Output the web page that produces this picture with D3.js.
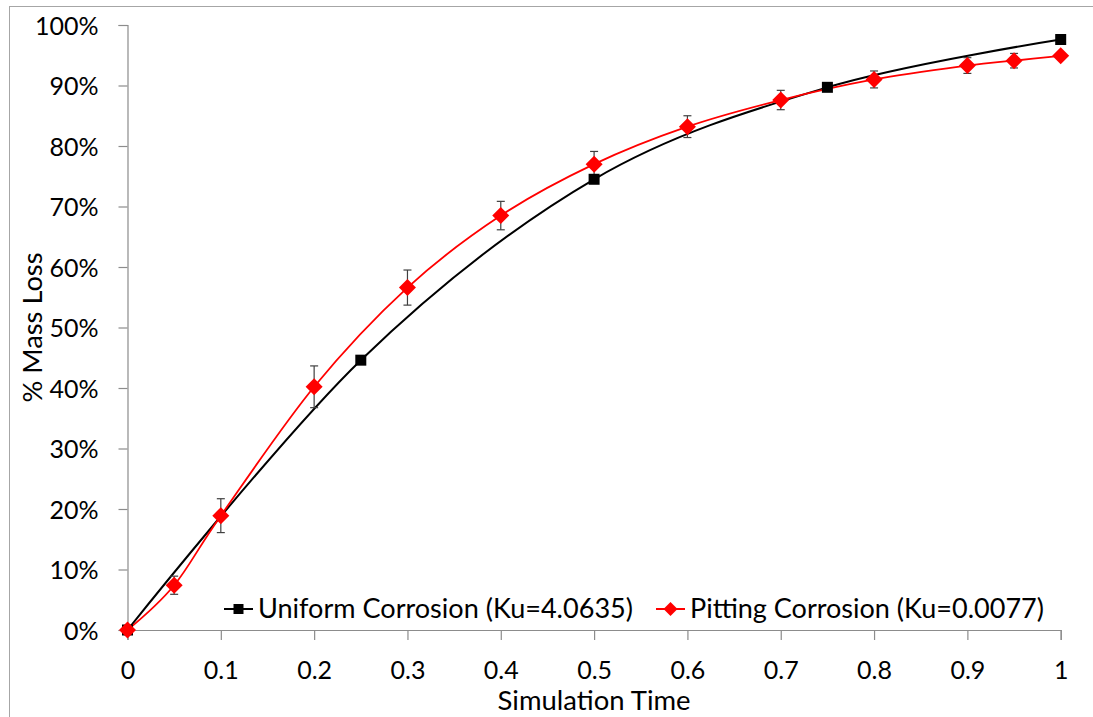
<!DOCTYPE html>
<html>
<head>
<meta charset="utf-8">
<script src="https://cdn.jsdelivr.net/npm/d3@7"></script>
<style>
  html, body { margin: 0; padding: 0; background: #fff; }
  svg { display: block; }
  text { font-family: Lato, "Open Sans", sans-serif; fill: #000; }
</style>
</head>
<body>
<svg id="chart" width="1093" height="717"></svg>
<script>
// Uniform corrosion series (simulation time, fraction of mass lost in %)
const uniformTime = [0, 0.25, 0.5, 0.75, 1];
const uniformLoss = [0, 44.6, 74.5, 89.7, 97.6];

// Pitting corrosion series, with ± error (in % points)
const pittingTime = [0, 0.05, 0.1, 0.2, 0.3, 0.4, 0.5, 0.6, 0.7, 0.8, 0.9, 0.95, 1];
const pittingLoss = [0, 7.4, 18.9, 40.2, 56.6, 68.5, 77.0, 83.2, 87.6, 91.0, 93.3, 94.1, 94.9];
const pittingErr  = [0, 1.5, 2.8, 3.45, 2.9, 2.35, 2.1, 1.8, 1.6, 1.4, 1.3, 1.2, 0.4];

// Axis ticks
const xTicks = [0, 0.1, 0.2, 0.3, 0.4, 0.5, 0.6, 0.7, 0.8, 0.9, 1];
const yTicks = [0, 10, 20, 30, 40, 50, 60, 70, 80, 90, 100];

const seriesNames = ["Uniform Corrosion (Ku=4.0635)", "Pitting Corrosion (Ku=0.0077)"];

const svg = d3.select("#chart");

// Chart frame
svg.append("rect")
  .attr("x", 9.5).attr("y", 6.5)
  .attr("width", 1200).attr("height", 800)
  .attr("fill", "none").attr("stroke", "#a6a6a6").attr("stroke-width", 1);

const plot = { left: 127.5, right: 1060.7, top: 25, bottom: 630 };

const x = d3.scaleLinear().domain([0, 1]).range([plot.left, plot.right]);
const y = d3.scaleLinear().domain([0, 100]).range([plot.bottom, plot.top]);

const axisColor = "#8c8c8c";

// Y axis
const yAxis = svg.append("g")
  .attr("transform", `translate(${plot.left},0)`)
  .call(d3.axisLeft(y).tickValues(yTicks).tickFormat(d => d + "%").tickSize(9).tickPadding(20));
// X axis
const xAxis = svg.append("g")
  .attr("transform", `translate(0,${plot.bottom})`)
  .call(d3.axisBottom(x).tickValues(xTicks).tickFormat(d => d3.format("")(d)).tickSize(10).tickPadding(21));

[yAxis, xAxis].forEach(g => {
  g.select(".domain").attr("stroke", axisColor).attr("stroke-width", 1.2);
  g.selectAll(".tick line").attr("stroke", axisColor).attr("stroke-width", 1.2);
  g.selectAll(".tick text").attr("font-size", 25).attr("font-family", "Lato").attr("fill", "#000");
});
yAxis.selectAll(".tick text").attr("dy", "0.36em");
xAxis.selectAll(".tick text").attr("dy", "0.72em");

// Axis titles
svg.append("text")
  .attr("x", (plot.left + plot.right) / 2).attr("y", 710)
  .attr("text-anchor", "middle").attr("font-size", 27.5)
  .attr("textLength", 193).attr("lengthAdjust", "spacingAndGlyphs")
  .text("Simulation Time");

svg.append("text")
  .attr("transform", `translate(42,${(plot.top + plot.bottom) / 2}) rotate(-90)`)
  .attr("text-anchor", "middle").attr("font-size", 27.5)
  .attr("textLength", 150).attr("lengthAdjust", "spacingAndGlyphs")
  .text("% Mass Loss");

// Smoothed series lines
const smooth = d3.line().curve(d3.curveCardinal.tension(0));
const uniformPts = uniformTime.map((t, i) => [x(t), y(uniformLoss[i])]);
const pittingPts = pittingTime.map((t, i) => [x(t), y(pittingLoss[i])]);

svg.append("path").attr("d", smooth(uniformPts))
  .attr("fill", "none").attr("stroke", "#000").attr("stroke-width", 2);
svg.append("path").attr("d", smooth(pittingPts))
  .attr("fill", "none").attr("stroke", "#ff0000").attr("stroke-width", 1.8);

// Error bars for pitting series
const errG = svg.append("g").attr("stroke", "#404040").attr("stroke-width", 1.2);
pittingTime.forEach((t, i) => {
  if (pittingErr[i] <= 0) return;
  const cx = x(t), y1 = y(pittingLoss[i] + pittingErr[i]), y2 = y(pittingLoss[i] - pittingErr[i]);
  errG.append("line").attr("x1", cx).attr("x2", cx).attr("y1", y1).attr("y2", y2);
  errG.append("line").attr("x1", cx - 4).attr("x2", cx + 4).attr("y1", y1).attr("y2", y1);
  errG.append("line").attr("x1", cx - 4).attr("x2", cx + 4).attr("y1", y2).attr("y2", y2);
});

// Markers
const square = d3.symbol().type(d3.symbolSquare).size(121);
const diamond = s => `M0,${-s}L${s},0L0,${s}L${-s},0Z`;

svg.append("g").selectAll("path").data(uniformPts).join("path")
  .attr("transform", d => `translate(${d[0]},${d[1]})`)
  .attr("d", square).attr("fill", "#000");
svg.append("g").selectAll("path").data(pittingPts).join("path")
  .attr("transform", d => `translate(${d[0]},${d[1]})`)
  .attr("d", diamond(8.5)).attr("fill", "#ff0000");

// Legend
const legend = svg.append("g");
const legY = 609;
const entries = [
  { x0: 224, name: seriesNames[0], color: "#000", mark: "square", textW: 375 },
  { x0: 656, name: seriesNames[1], color: "#ff0000", mark: "diamond", textW: 354 }
];
entries.forEach(e => {
  legend.append("line")
    .attr("x1", e.x0).attr("x2", e.x0 + 29).attr("y1", legY).attr("y2", legY)
    .attr("stroke", e.color).attr("stroke-width", 2);
  legend.append("path")
    .attr("transform", `translate(${e.x0 + 14.5},${legY})`)
    .attr("d", e.mark === "square" ? d3.symbol().type(d3.symbolSquare).size(100)() : diamond(7))
    .attr("fill", e.color);
  legend.append("text")
    .attr("x", e.x0 + 34).attr("y", legY + 9)
    .attr("font-size", 26)
    .attr("textLength", e.textW).attr("lengthAdjust", "spacingAndGlyphs")
    .text(e.name);
});
</script>
</body>
</html>
